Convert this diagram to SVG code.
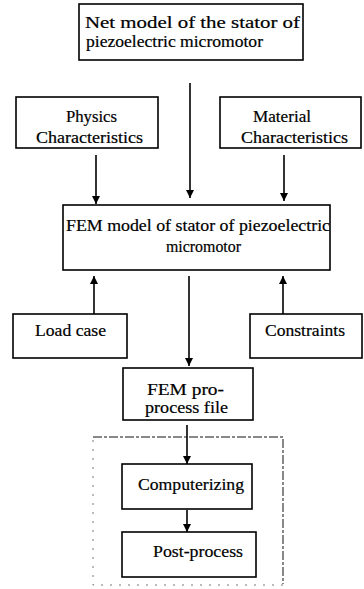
<svg xmlns="http://www.w3.org/2000/svg" width="364" height="589" viewBox="0 0 364 589" font-family="Liberation Serif, Times New Roman, serif">
<style>
.box{fill:#fff;stroke:#000;stroke-width:1.6}
text{font-family:"Liberation Serif",serif;font-size:16px;fill:#000;stroke:#000;stroke-width:0.2}
.c{stroke:#000;stroke-width:1.6;fill:none}
.d{stroke:#111;stroke-width:1;fill:none;stroke-dasharray:9 2 3 2}
.d2{stroke:#777;stroke-width:1;fill:none;stroke-dasharray:2 7}
</style>
<defs>
<marker id="ah" viewBox="0 0 8 8" refX="8" refY="4" markerWidth="8" markerHeight="8" markerUnits="userSpaceOnUse" orient="auto">
<path d="M0,0 L8,4 L0,8 Z" fill="#000"/>
</marker>
</defs>
<rect width="364" height="589" fill="#fff"/>
<g id="connectors">
<line class="c" x1="190" y1="83" x2="190" y2="198" marker-end="url(#ah)"/>
<line class="c" x1="96" y1="155" x2="96" y2="204" marker-end="url(#ah)"/>
<line class="c" x1="284" y1="155" x2="284" y2="201" marker-end="url(#ah)"/>
<line class="c" x1="94" y1="314" x2="94" y2="276" marker-end="url(#ah)"/>
<line class="c" x1="283" y1="314" x2="283" y2="276" marker-end="url(#ah)"/>
<line class="c" x1="189" y1="276" x2="189" y2="366" marker-end="url(#ah)"/>
<line class="c" x1="187" y1="425" x2="187" y2="464" marker-end="url(#ah)"/>
<line class="c" x1="187" y1="510" x2="187" y2="532" marker-end="url(#ah)"/>
</g>
<g id="group-frame">
<path class="d" d="M93,437 H283 V584"/>
<path class="d2" d="M283,585 H93 V437"/>
</g>
<g id="net-model">
<rect class="box" x="79" y="4" width="224" height="56"/>
<text x="85" y="28" textLength="215" lengthAdjust="spacingAndGlyphs">Net model of  the stator of</text>
<text x="86" y="47" textLength="177" lengthAdjust="spacingAndGlyphs">piezoelectric micromotor</text>
</g>
<g id="physics">
<rect class="box" x="16" y="97" width="142" height="51"/>
<text x="66" y="122" textLength="51" lengthAdjust="spacingAndGlyphs">Physics</text>
<text x="36" y="143" textLength="107" lengthAdjust="spacingAndGlyphs">Characteristics</text>
</g>
<g id="material">
<rect class="box" x="220" y="97" width="141" height="51"/>
<text x="253" y="122" textLength="58" lengthAdjust="spacingAndGlyphs">Material</text>
<text x="241" y="143" textLength="107" lengthAdjust="spacingAndGlyphs">Characteristics</text>
</g>
<g id="fem-model">
<rect class="box" x="63" y="205" width="267" height="65"/>
<text x="66" y="231" textLength="264" lengthAdjust="spacingAndGlyphs">FEM model of stator of piezoelectric</text>
<text x="166" y="252" textLength="75" lengthAdjust="spacingAndGlyphs">micromotor</text>
</g>
<g id="load-case">
<rect class="box" x="13" y="314" width="114" height="44"/>
<text x="35" y="336" textLength="71" lengthAdjust="spacingAndGlyphs">Load case</text>
</g>
<g id="constraints">
<rect class="box" x="250" y="314" width="112" height="44"/>
<text x="265" y="336" textLength="80" lengthAdjust="spacingAndGlyphs">Constraints</text>
</g>
<g id="fem-preprocess">
<rect class="box" x="123" y="368" width="130" height="52"/>
<text x="147" y="395" textLength="77" lengthAdjust="spacingAndGlyphs">FEM pro-</text>
<text x="145" y="413" textLength="83" lengthAdjust="spacingAndGlyphs">process file</text>
</g>
<g id="computerizing">
<rect class="box" x="122" y="464" width="130" height="45"/>
<text x="138" y="490" textLength="106" lengthAdjust="spacingAndGlyphs">Computerizing</text>
</g>
<g id="post-process">
<rect class="box" x="122" y="532" width="134" height="45"/>
<text x="153" y="557" textLength="90" lengthAdjust="spacingAndGlyphs">Post-process</text>
</g>
</svg>
